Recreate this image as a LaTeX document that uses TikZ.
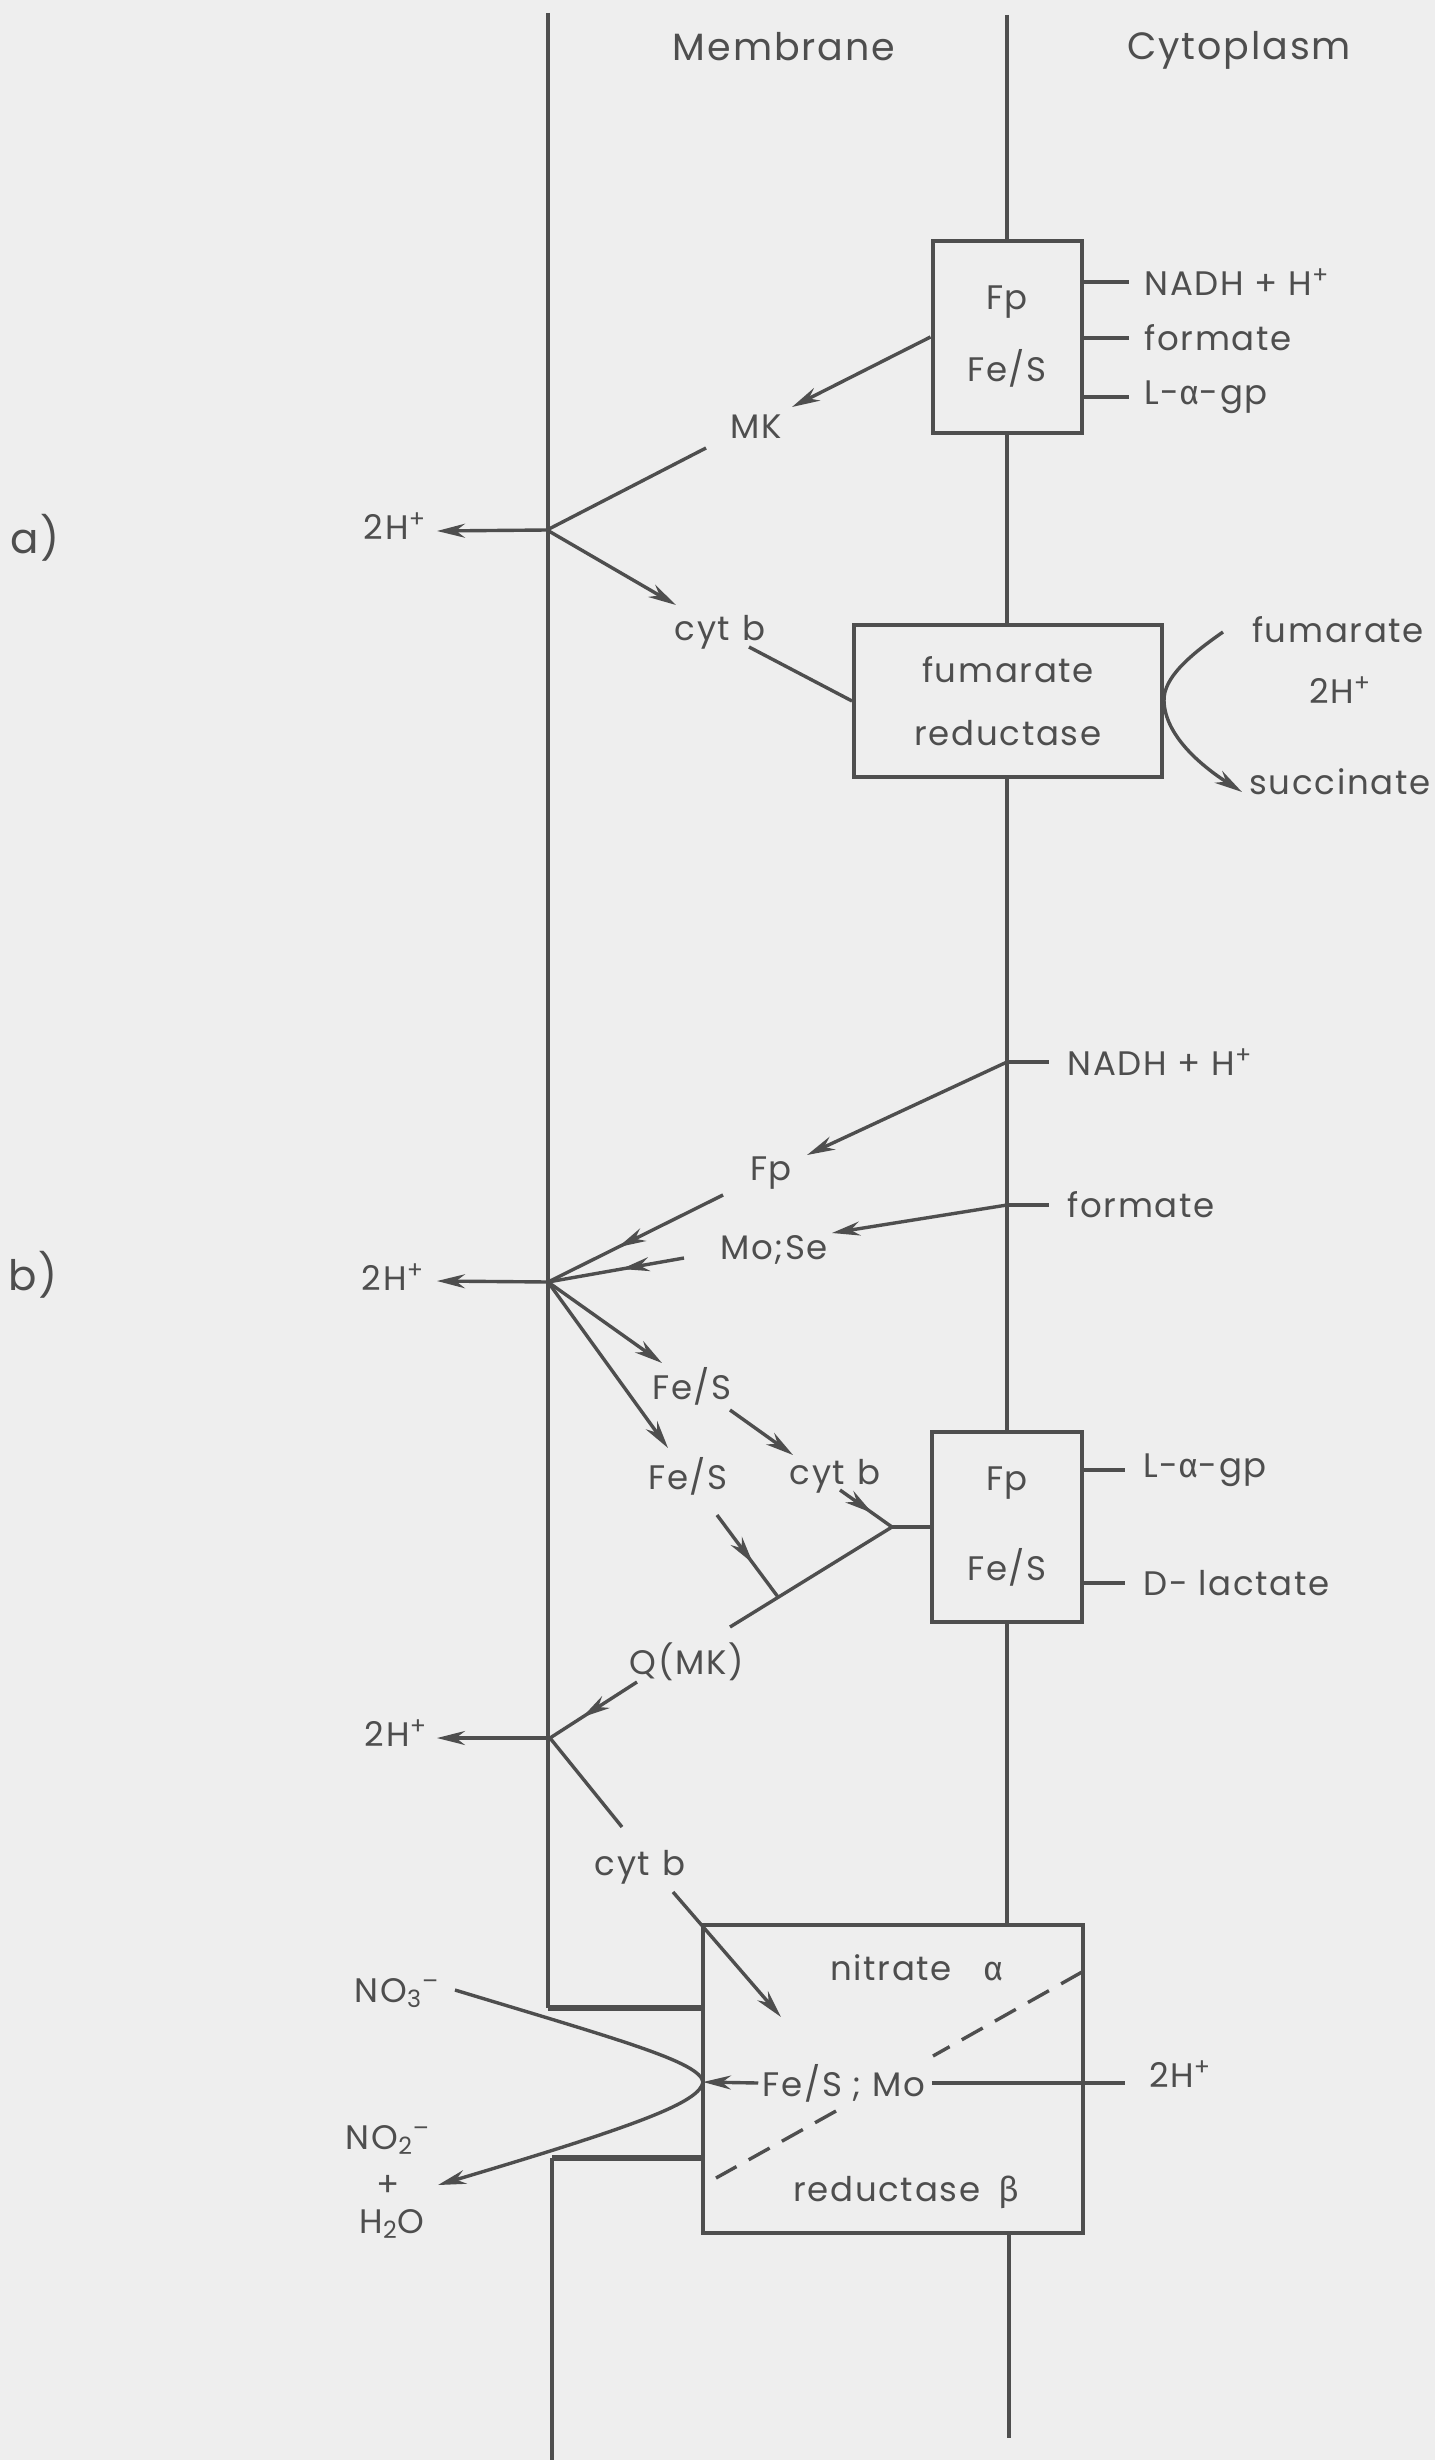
\documentclass[tikz,border=0pt]{standalone}
\usepackage{fontspec}
\setmainfont{Poppins}[LetterSpace=5]
\newfontfamily\grk{Fira Sans}
\usetikzlibrary{arrows.meta,decorations.markings}
\definecolor{bg}{HTML}{EEEEEE}
\definecolor{ink}{HTML}{4E4E4E}
\tikzset{
  lbl/.style={text=ink, inner sep=0pt, font=\fontsize{17}{20}\selectfont},
  hdr/.style={text=ink, inner sep=0pt, font=\fontsize{19}{22}\selectfont},
  lettag/.style={text=ink, inner sep=0pt, font=\fontsize{21}{24}\selectfont},
  ln/.style={ink, line width=1.7pt},
  jogline/.style={ink, line width=3pt},
  box/.style={draw=ink, line width=2pt, rectangle, inner sep=0pt, fill=bg, text=ink, align=center},
  arr/.style={-{Stealth[length=14pt,width=7pt]}},
  midarr/.style={postaction={decorate}, decoration={markings, mark=at position #1 with {\arrow{Stealth[length=14pt,width=7pt]}}}},
  dashln/.style={ln, dash pattern=on 12pt off 7pt},
}
\begin{document}
\begin{tikzpicture}[x=0.5pt,y=-0.5pt]
\fill[bg] (0,0) rectangle (1435,2460);
\useasboundingbox (0,0) rectangle (1435,2460);

% headers and tags
\node[hdr] (hMem) at (784,47) {Membrane};
\node[hdr] (hCyt) at (1239,50) {Cytoplasm};
\node[lettag] (tagA) at (35,538) {a)};
\node[lettag] (tagB) at (33,1275) {b)};

% boxes
\node[box, minimum width=74.5pt, minimum height=96pt, font=\fontsize{17}{36}\selectfont] (fpA) at (1007,337) {Fp\\Fe/S};
\node[box, minimum width=154pt, minimum height=76pt, font=\fontsize{17}{31.5}\selectfont] (fum) at (1008,701) {fumarate\\reductase};
\node[box, minimum width=75pt, minimum height=95pt, font=\fontsize{17}{45}\selectfont] (fpB) at (1007,1527) {Fp\\Fe/S};
\node[box, minimum width=190pt, minimum height=154pt] (nit) at (893,2079) {};

% membrane lines
\coordinate (lTop) at (548,13);
\coordinate (lJog) at (548,2008);
\coordinate (lJog2) at (552,2158);
\coordinate (lBot) at (552,2460);
\coordinate (rTop) at (1007,15);
\coordinate (rBot) at (1009,2438);
\draw[ln] (lTop) -- (lJog);
\draw[jogline] (lJog) -- (nit.west |- lJog);
\draw[jogline] (nit.west |- lJog2) -- (lJog2);
\draw[ln] (lJog2) -- (lBot);
\draw[ln] (rTop) -- (fpA.north);
\draw[ln] (fpA.south) -- (fpA.south |- fum.north);
\draw[ln] (fpA.south |- fum.south) -- (fpB.north);
\draw[ln] (fpB.south) -- (fpB.south |- nit.north);
\draw[ln] (rBot |- nit.south) -- (rBot);

% ---------- a) ----------
\node[lbl, anchor=west] (nadhA) at (1144,282) {NADH + H\textsuperscript{+}};
\node[lbl, anchor=west] (formA) at (1144,338) {formate};
\node[lbl, anchor=west] (lagA) at (1144,397) {L-{\grk α}-gp};
\draw[ln] (fpA.east |- nadhA.west) -- ([xshift=-7.5pt]nadhA.west);
\draw[ln] (fpA.east |- formA.west) -- ([xshift=-7.5pt]formA.west);
\draw[ln] (fpA.east |- lagA.west) -- ([xshift=-7.5pt]lagA.west);

\node[lbl] (mk) at (756,427) {MK};
\node[lbl] (h2a) at (395,526) {2H\textsuperscript{+}};
\node[lbl] (cyta) at (720,632) {cyt\hspace{6pt}b};
\coordinate (ja) at (547,530);
\coordinate (mkTip) at (792,407);
\coordinate (mkOut) at (706,448);
\coordinate (h2aTip) at (437,531);
\coordinate (cytaTip) at (676,605);
\coordinate (cytaOut) at (749,647);
\draw[ln,arr] (fpA.west) -- (mkTip);
\draw[ln] (mkOut) -- (ja);
\draw[ln,arr] (ja) -- (h2aTip);
\draw[ln,arr] (ja) -- (cytaTip);
\draw[ln] (cytaOut) -- (fum.west);

% fumarate / succinate
\node[lbl] (fumR) at (1338,630) {fumarate};
\node[lbl] (h2f) at (1340,690) {2H\textsuperscript{+}};
\node[lbl] (suc) at (1340,782) {succinate};
\coordinate (fumIn) at (1223,632);
\coordinate (sucTip) at (1242,792);
\draw[ln] (fumIn) .. controls (1190,655) and (1163,678) .. (fum.east);
\draw[ln,arr] (fum.east) .. controls (1165,735) and (1200,765) .. (sucTip);

% ---------- b) ----------
\node[lbl, anchor=west] (nadhB) at (1067,1062) {NADH + H\textsuperscript{+}};
\node[lbl, anchor=west] (formB) at (1067,1205) {formate};
\coordinate (nadhPt) at (1007,1062);
\coordinate (formPt) at (1007,1205);
\draw[ln] (nadhPt) -- ([xshift=-9pt]nadhB.west |- nadhPt);
\draw[ln] (formPt) -- ([xshift=-9pt]formB.west |- formPt);

\node[lbl] (fpb) at (771,1173) {Fp};
\node[lbl] (mose) at (774,1250) {Mo;Se};
\node[lbl] (h2b) at (393,1277) {2H\textsuperscript{+}};
\node[lbl] (fesU) at (692,1386) {Fe/S};
\node[lbl] (fesL) at (688,1476) {Fe/S};
\node[lbl] (cytb) at (835,1476) {cyt\hspace{6pt}b};
\node[lbl] (qmk) at (687,1662) {Q(MK)};

\coordinate (jb) at (548,1282);
\coordinate (fpbTip) at (807,1155);
\coordinate (moseTip) at (832,1233);
\coordinate (fpbOut) at (723,1195);
\coordinate (moseOut) at (684,1258);
\coordinate (h2bTip) at (437,1281);
\coordinate (fesUTip) at (662,1363);
\coordinate (fesLTip) at (668,1448);
\coordinate (fesUOut) at (730,1410);
\coordinate (cytbTip) at (793,1455);
\coordinate (cytbOut) at (840,1490);
\coordinate (y2) at (892,1527);
\coordinate (qmkEnd) at (730,1627);
\coordinate (fesLOut) at (717,1515);
\coordinate (meet) at (778,1597);

\draw[ln,arr] (nadhPt) -- (fpbTip);
\draw[ln,arr] (formPt) -- (moseTip);
\draw[ln,midarr=0.6] (fpbOut) -- (jb);
\draw[ln,midarr=0.46] (moseOut) -- (jb);
\draw[ln,arr] (jb) -- (h2bTip);
\draw[ln,arr] (jb) -- (fesUTip);
\draw[ln,arr] (jb) -- (fesLTip);
\draw[ln,arr] (fesUOut) -- (cytbTip);
\draw[ln,midarr=0.62] (cytbOut) -- (y2);
\draw[ln] (y2) -- (fpB.west);
\draw[ln] (y2) -- (qmkEnd);
\draw[ln,midarr=0.59] (fesLOut) -- (meet);

\node[lbl, anchor=west] (lagB) at (1143,1470) {L-{\grk α}-gp};
\node[lbl, anchor=west] (dlac) at (1143,1583) {D- lactate};
\draw[ln] (fpB.east |- lagB.west) -- ([xshift=-9pt]lagB.west);
\draw[ln] (fpB.east |- dlac.west) -- ([xshift=-9pt]dlac.west);

% lower junction
\node[lbl] (h2c) at (396,1733) {2H\textsuperscript{+}};
\node[lbl] (cytc) at (640,1867) {cyt\hspace{6pt}b};
\coordinate (jc) at (550,1738);
\coordinate (qOut) at (637,1682);
\coordinate (h2cTip) at (437,1738);
\coordinate (cytcIn) at (622,1827);
\coordinate (cytcOut) at (673,1892);
\coordinate (femoTip) at (781,2017);
\draw[ln,midarr=0.63] (qOut) -- (jc);
\draw[ln,arr] (jc) -- (h2cTip);
\draw[ln] (jc) -- (cytcIn);
\draw[ln,arr] (cytcOut) -- (femoTip);

% nitrate reductase
\coordinate (dA) at (1082,1972);
\coordinate (dA2) at (933,2056);
\coordinate (dB2) at (836,2111);
\coordinate (dB) at (716,2178);
\draw[dashln] (dA) -- (dA2);
\draw[dashln] (dB2) -- (dB);
\node[lbl] (nitT) at (917,1968) {nitrate\hspace{16pt}{\grk α}};
\node[lbl] (nitB) at (906,2192) {reductase\hspace{9pt}{\grk β}};
\node[lbl] (femo) at (844,2083) {Fe/S ; Mo};
\node[lbl] (h2d) at (1180,2074) {2H\textsuperscript{+}};
\coordinate (vtx) at (703,2082);
\draw[ln,arr] ([xshift=-2pt]femo.west) -- (vtx);
\draw[ln] ([xshift=3pt]femo.east) -- ([xshift=-12pt]h2d.west |- femo.east);

\node[lbl] (no3) at (397,1993) {NO\textsubscript{3}\textsuperscript{–}};
\node[lbl] (no2) at (388,2140) {NO\textsubscript{2}\textsuperscript{–}};
\node[lbl] (plus) at (388,2186) {+};
\node[lbl] (h2o) at (392,2224) {H\textsubscript{2}O};
\coordinate (no3End) at (455,1990);
\coordinate (no2Tip) at (438,2185);
\draw[ln] (no3End) .. controls (620,2040) and (700,2062) .. (vtx);
\draw[ln,arr] (vtx) .. controls (700,2102) and (640,2125) .. (no2Tip);
\end{tikzpicture}
\end{document}
